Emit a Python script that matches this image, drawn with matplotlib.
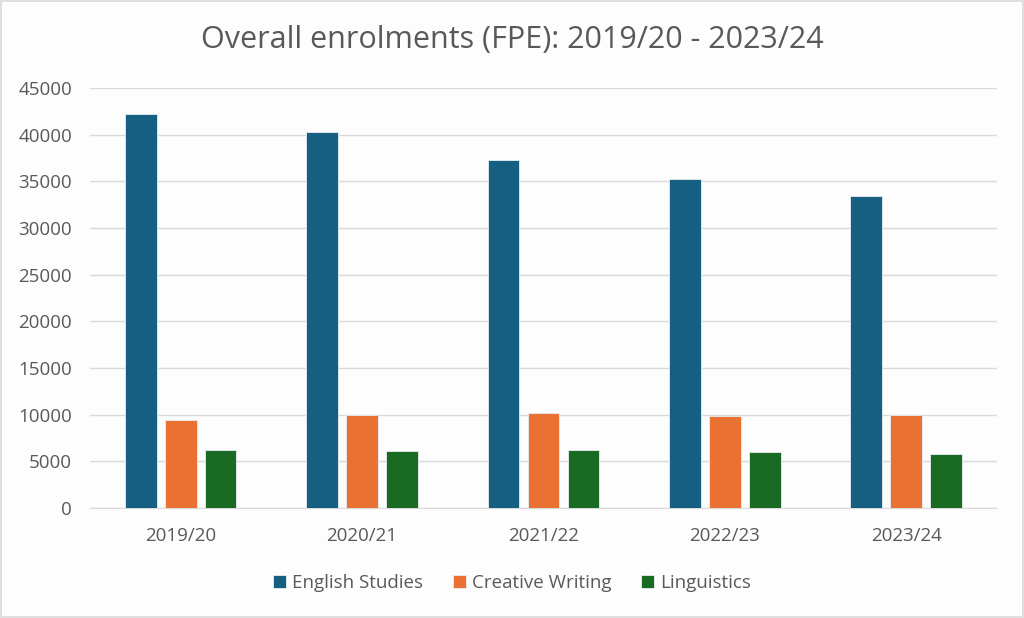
import numpy as np
import matplotlib
matplotlib.use("Agg")
import matplotlib.pyplot as plt
from matplotlib.patches import Rectangle

years = ['2019/20', '2020/21', '2021/22', '2022/23', '2023/24']
english = [42250, 40250, 37300, 35300, 33450]
creative = [9430, 9930, 10140, 9890, 10000]
linguistics = [6250, 6070, 6180, 6000, 5790]
series_names = ['English Studies', 'Creative Writing', 'Linguistics']
colours = ['#156082', '#E97132', '#196B24']
grey = '#595959'

plt.rcParams['font.family'] = ['Open Sans', 'DejaVu Sans']

fig = plt.figure(figsize=(10.24, 6.18), dpi=100, facecolor='#FDFDFD')
fig.patches.append(Rectangle((0.001, 0.001), 0.998, 0.997, transform=fig.transFigure,
                             fill=False, edgecolor='#D9D9D9', linewidth=1.2))
ax = fig.add_axes([0.0879, 0.178, 0.8857, 0.6796])
ax.set_facecolor('#FDFDFD')

x = np.arange(len(years))
pitch = 0.22
width = 0.175
for i, (vals, name, col) in enumerate(zip([english, creative, linguistics], series_names, colours)):
    ax.bar(x + (i - 1) * pitch, vals, width, color=col, label=name,
           edgecolor='#E8EEF2', linewidth=0.6, zorder=3)

ax.set_xlim(-0.5, len(years) - 0.5)
ax.set_ylim(0, 45000)
ax.set_yticks(np.arange(0, 45001, 5000))
ax.yaxis.grid(True, color='#D9D9D9', linewidth=1.0, zorder=0)
ax.set_xticks(x)
ax.set_xticklabels(years)
ax.tick_params(axis='both', length=0, labelsize=13.5, colors=grey)
ax.tick_params(axis='x', pad=14)
ax.tick_params(axis='y', pad=13)
for s in ['top', 'right', 'left']:
    ax.spines[s].set_visible(False)
ax.spines['bottom'].set_color('#D9D9D9')

fig.text(0.5, 0.935, 'Overall enrolments (FPE): 2019/20 - 2023/24', ha='center', va='center',
         fontsize=22, color=grey)

leg = fig.legend(loc='center', bbox_to_anchor=(0.5, 0.056), ncol=3, frameon=False,
                 fontsize=13.5, handlelength=0.7, handleheight=0.7, handletextpad=0.3,
                 columnspacing=1.6, labelcolor=grey)

fig.savefig('out.png', dpi=100, facecolor=fig.get_facecolor())
